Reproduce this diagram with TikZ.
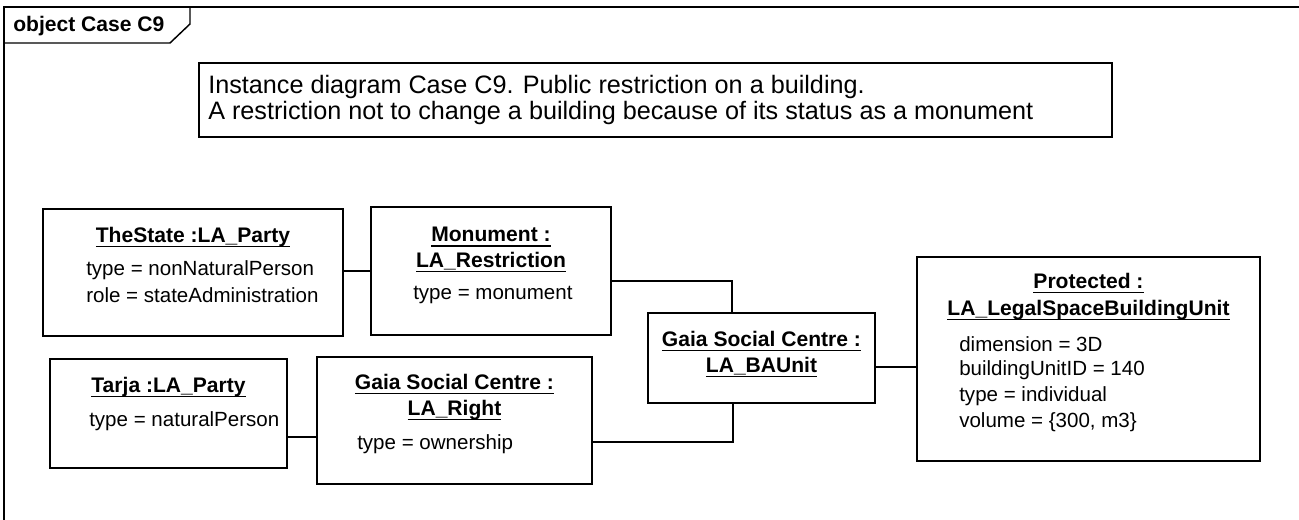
\documentclass[tikz,border=0pt]{standalone}
\usepackage{fontspec}
\setmainfont{Liberation Sans}
\newcommand\px{0.75pt}
\newcommand\ulx[1]{\setbox0\hbox{#1}\rlap{\rule[-3.4pt]{\wd0}{1pt}}\box0}
\begin{document}
\begin{tikzpicture}[x=0.75pt,y=-0.75pt,
  box/.style={draw, line width=1.1pt, inner sep=0pt, outer sep=0pt},
  conn/.style={line width=0.8pt},
  ttl/.style={inner sep=0pt, font=\fontsize{15.8}{18}\selectfont\bfseries},
  attr/.style={inner sep=0pt, anchor=west, font=\fontsize{15.4}{18}\selectfont},
  ntxt/.style={inner sep=0pt, anchor=west, font=\fontsize{18.9}{22}\selectfont}]
\useasboundingbox (0,0) rectangle (1299,520);
% frame
\draw[line width=1.2pt] (4,520) -- (4,7) -- (1299,7);
\draw[line width=1.1pt] (190,7) -- (190,24) -- (170,43) -- (4,43);
\node[ttl, anchor=west] (frametitle) at (13,26) {object Case C9};
% note
\node[box, minimum width=913*\px, minimum height=74*\px] (note) at (655.5,100) {};
\node[ntxt] (n1) at (208,87) {Instance diagram Case C9. Public restriction on a building.};
\node[ntxt] (n2) at (208,113) {A restriction not to change a building because of its status as a monument};
% boxes
\node[box, minimum width=300*\px, minimum height=127*\px] (state) at (193,272.5) {};
\node[box, minimum width=240*\px, minimum height=128*\px] (monu) at (491,271) {};
\node[box, minimum width=227*\px, minimum height=90*\px] (baunit) at (761.5,358) {};
\node[box, minimum width=237*\px, minimum height=109*\px] (tarja) at (168.5,413.5) {};
\node[box, minimum width=275*\px, minimum height=127*\px] (right) at (454.5,420.5) {};
\node[box, minimum width=343*\px, minimum height=204*\px] (prot) at (1088.5,359) {};
% texts
\node[ttl] (st1) at (193,237) {\ulx{TheState :LA\_Party}};
\node[attr] (st2) at (86,270) {type = nonNaturalPerson};
\node[attr] (st3) at (86,295) {role = stateAdministration};
\node[ttl] (mo1) at (491,237) {\ulx{Monument :}};
\node[ttl] (mo2) at (491,262) {\ulx{LA\_Restriction}};
\node[attr] (mo3) at (413,295) {type = monument};
\node[ttl] (ba1) at (761.5,341) {\ulx{Gaia Social Centre :}};
\node[ttl] (ba2) at (761.5,367) {\ulx{LA\_BAUnit}};
\node[ttl] (ta1) at (168.5,387) {\ulx{Tarja :LA\_Party}};
\node[attr] (ta2) at (89,421) {type = naturalPerson};
\node[ttl] (ri1) at (454.5,384) {\ulx{Gaia Social Centre :}};
\node[ttl] (ri2) at (454.5,410) {\ulx{LA\_Right}};
\node[attr] (ri3) at (357,444) {type = ownership};
\node[ttl] (pr1) at (1088.5,283) {\ulx{Protected :}};
\node[ttl] (pr2) at (1088.5,310) {\ulx{LA\_LegalSpaceBuildingUnit}};
\node[attr] (pr3) at (959,344) {dimension = 3D};
\node[attr] (pr4) at (959,370) {buildingUnitID = 140};
\node[attr] (pr5) at (959,396) {type = individual};
\node[attr] (pr6) at (959,422) {volume = \{300, m3\}};
% connectors
\coordinate (sm) at (0,271);
\coordinate (mb) at (732,281);
\coordinate (br) at (733,442);
\coordinate (bp) at (0,367);
\coordinate (tr) at (0,437);
\draw[conn] (state.east |- sm) -- (monu.west |- sm);
\draw[conn] (monu.east |- mb) -| (baunit.north -| mb);
\draw[conn] (baunit.south -| br) |- (right.east |- br);
\draw[conn] (baunit.east |- bp) -- (prot.west |- bp);
\draw[conn] (tarja.east |- tr) -- (right.west |- tr);
\end{tikzpicture}
\end{document}
